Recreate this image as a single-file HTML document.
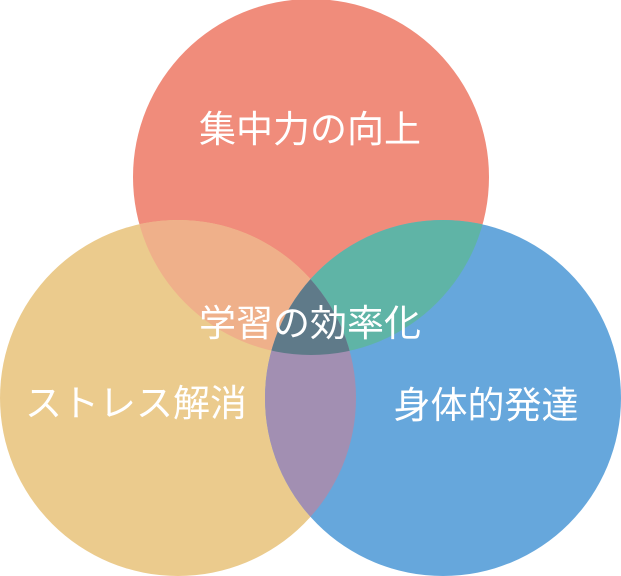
<!DOCTYPE html>
<html><head><meta charset="utf-8"><style>
html,body{margin:0;padding:0;background:#fff;}
svg{display:block}
text{font-family:"Liberation Sans","Noto Sans CJK JP",sans-serif;fill:#fff;font-size:37px;text-anchor:middle;}
</style></head><body>
<svg width="621" height="576" viewBox="0 0 621 576">
<defs>
<clipPath id="cT"><circle cx="311" cy="177" r="178"/></clipPath>
<clipPath id="cL"><circle cx="178" cy="398" r="178"/></clipPath>
</defs>
<circle cx="311" cy="177" r="178" fill="#f08c7b"/>
<circle cx="178" cy="398" r="178" fill="#ebcb8d"/>
<circle cx="443" cy="398" r="178" fill="#66a7dc"/>
<g clip-path="url(#cT)">
<circle cx="178" cy="398" r="178" fill="#efb08a"/>
<circle cx="443" cy="398" r="178" fill="#5fb4a6"/>
</g>
<g clip-path="url(#cL)">
<circle cx="443" cy="398" r="178" fill="#a28fb2"/>
<g clip-path="url(#cT)"><circle cx="443" cy="398" r="178" fill="#5f7a89"/></g>
</g>
<text x="310" y="142">集中力の向上</text>
<text x="310" y="336">学習の効率化</text>
<text x="136" y="416">ストレス解消</text>
<text x="486" y="418">身体的発達</text>
</svg>
</body></html>
